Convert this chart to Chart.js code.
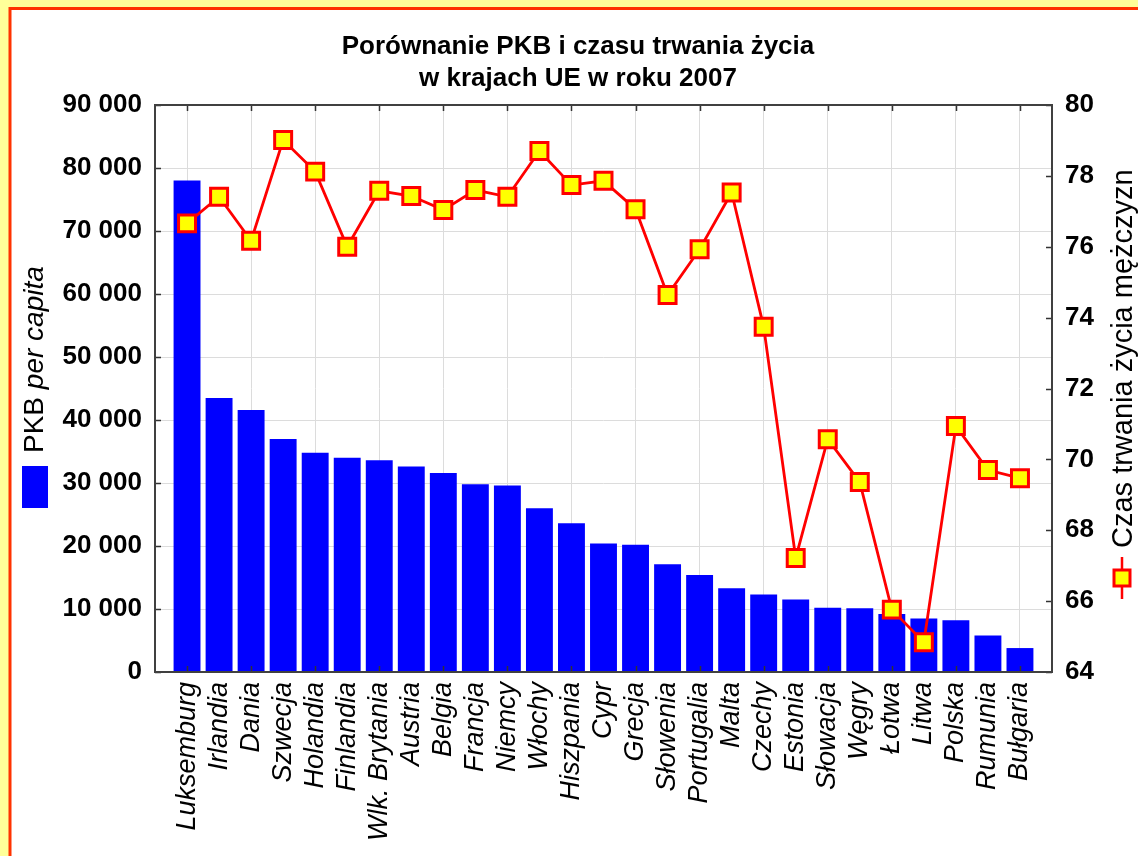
<!DOCTYPE html>
<html><head><meta charset="utf-8">
<script src="https://cdn.jsdelivr.net/npm/chart.js@4.4.1/dist/chart.umd.min.js"></script>
<style>html,body{margin:0;padding:0;background:#FFFF99;overflow:hidden}#wrap{width:1138px;height:856px}</style>
</head><body><div id="wrap"><canvas id="c" width="1138" height="856"></canvas></div>
<script>
const countries = ['Luksemburg','Irlandia','Dania','Szwecja','Holandia','Finlandia','Wlk. Brytania','Austria','Belgia','Francja','Niemcy','Włochy','Hiszpania','Cypr','Grecja','Słowenia','Portugalia','Malta','Czechy','Estonia','Słowacja','Węgry','Łotwa','Litwa','Polska','Rumunia','Bułgaria'];
const gdpPerCapita = [78000,43500,41600,37000,34800,34000,33600,32600,31600,29800,29600,26000,23600,20400,20200,17100,15400,13300,12300,11500,10200,10100,9200,8500,8200,5800,3800];
const lifeExpMen = [76.66,77.41,76.17,79.01,78.12,76.0,77.58,77.43,77.04,77.6,77.41,78.7,77.74,77.86,77.06,74.64,75.93,77.53,73.74,67.22,70.57,69.36,65.76,64.84,70.94,69.7,69.47];
const gdpTicks = [0,10000,20000,30000,40000,50000,60000,70000,80000,90000];
const lifeTicks = [64,66,68,70,72,74,76,78,80];
const titleLines = ['Porównanie PKB i czasu trwania życia','w krajach UE w roku 2007'];
const leftTitle = ['PKB ','per capita'];
const rightTitle = 'Czas trwania życia mężczyzn';

const FONT = "'Liberation Sans', Arial, sans-serif";
const fmt = v => String(v).replace(/\B(?=(\d{3})+(?!\d))/g, ' ');

const decor = {
  id: 'decor',
  beforeDraw(chart) {
    const c = chart.ctx, W = chart.width, H = chart.height;
    c.save();
    c.fillStyle = '#FFFF99'; c.fillRect(0,0,W,H);
    c.fillStyle = '#FFFFFF'; c.fillRect(10,8.5,W,H);
    c.strokeStyle = '#FF3300'; c.lineWidth = 3;
    c.beginPath(); c.moveTo(10,H); c.lineTo(10,8.5); c.lineTo(W,8.5); c.stroke();
    c.restore();
  },
  afterDatasetsDraw(chart) {
    const c = chart.ctx, a = chart.chartArea;
    const x = chart.scales.x, y = chart.scales.y, y1 = chart.scales.y1;
    c.save();
    c.strokeStyle = '#333333'; c.lineWidth = 1.5;
    c.beginPath();
    gdpTicks.forEach(v => { const p = Math.round(y.getPixelForValue(v))+0.5; c.moveTo(a.left,p); c.lineTo(a.left+6,p); });
    lifeTicks.forEach(v => { const p = Math.round(y1.getPixelForValue(v))+0.5; c.moveTo(a.right,p); c.lineTo(a.right-6,p); });
    countries.forEach((n,i) => { if (i % 2 === 0) { const p = Math.round(x.getPixelForValue(i+1))+0.5; c.moveTo(p,a.bottom); c.lineTo(p,a.bottom-6); c.moveTo(p,a.top); c.lineTo(p,a.top+6); } });
    c.stroke();
    c.lineWidth = 2; c.strokeStyle = '#404040';
    c.strokeRect(a.left, a.top, a.right-a.left, a.bottom-a.top);
    c.restore();
  },
  afterDraw(chart) {
    const c = chart.ctx;
    c.save();
    c.fillStyle = '#000';
    c.font = 'bold 26px ' + FONT; c.textAlign = 'center'; c.textBaseline = 'alphabetic';
    c.fillText(titleLines[0], 578, 54);
    c.fillText(titleLines[1], 578, 86);
    // left axis title
    c.save(); c.translate(43,453); c.rotate(-Math.PI/2); c.textAlign = 'left';
    c.font = '28px ' + FONT; c.fillText(leftTitle[0],0,0);
    const w = c.measureText(leftTitle[0]).width;
    c.font = 'italic 28px ' + FONT; c.fillText(leftTitle[1],w,0);
    c.restore();
    c.fillStyle = '#0000FF'; c.fillRect(22,466,26,42);
    // right axis title
    c.fillStyle = '#000';
    c.save(); c.translate(1132,548); c.rotate(-Math.PI/2); c.textAlign = 'left';
    c.font = '29px ' + FONT; c.fillText(rightTitle,0,0);
    c.restore();
    c.strokeStyle = '#FF0000'; c.lineWidth = 2.5;
    c.beginPath(); c.moveTo(1122,557); c.lineTo(1122,599); c.stroke();
    c.fillStyle = '#FFFF00'; c.lineWidth = 3;
    c.fillRect(1114,570,16,16); c.strokeRect(1114,570,16,16);
    c.restore();
  }
};

new Chart(document.getElementById('c'), {
  type: 'bar',
  data: {
    datasets: [
      { type: 'line', label: rightTitle, data: lifeExpMen.map((v,i)=>({x:i+1,y:v})), yAxisID: 'y1', xAxisID: 'x',
        borderColor: '#FF0000', borderWidth: 2.8, pointStyle: 'rect', pointRadius: 12, pointBorderWidth: 3,
        pointBackgroundColor: '#FFFF00', pointBorderColor: '#FF0000', tension: 0, order: 0, clip: false },
      { type: 'bar', label: 'PKB per capita', data: gdpPerCapita.map((v,i)=>({x:i+1,y:v})), yAxisID: 'y', xAxisID: 'x',
        backgroundColor: '#0000FF', barPercentage: 0.84, categoryPercentage: 1, order: 1 }
    ]
  },
  options: {
    responsive: false, devicePixelRatio: 1, animation: false,
    layout: { padding: { left: 0, right: 0, top: 105, bottom: 0 } },
    plugins: { legend: { display: false }, tooltip: { enabled: false } },
    scales: {
      x: {
        type: 'linear', min: 0, max: 28, offset: false,
        afterBuildTicks: s => { s.ticks = countries.map((n,i)=>({value:i+1})); },
        afterFit: s => { s.height = 184; },
        ticks: { autoSkip: false, minRotation: 90, maxRotation: 90, padding: 10, color: '#000',
          font: { family: FONT, size: 27, style: 'italic' },
          callback: v => countries[v-1] ?? '' },
        grid: { offset: false, drawTicks: false, lineWidth: 1,
          color: ctx => (ctx.tick && ctx.tick.value % 2 === 1) ? '#dcdcdc' : 'rgba(0,0,0,0)' },
        border: { display: false }
      },
      y: {
        type: 'linear', position: 'left', min: 0, max: 90000,
        afterBuildTicks: s => { s.ticks = gdpTicks.map(v=>({value:v})); },
        afterFit: s => { s.width = 155; },
        ticks: { padding: 13, color: '#000', font: { family: FONT, size: 26, weight: 'bold' }, callback: v => fmt(v) },
        grid: { drawTicks: false, color: '#dcdcdc', lineWidth: 1 },
        border: { display: false }
      },
      y1: {
        type: 'linear', position: 'right', min: 64, max: 80,
        afterBuildTicks: s => { s.ticks = lifeTicks.map(v=>({value:v})); },
        afterFit: s => { s.width = 86; },
        ticks: { padding: 13, color: '#000', font: { family: FONT, size: 26, weight: 'bold' } },
        grid: { drawOnChartArea: false, drawTicks: false },
        border: { display: false }
      }
    }
  },
  plugins: [decor]
});
</script>
</body></html>
